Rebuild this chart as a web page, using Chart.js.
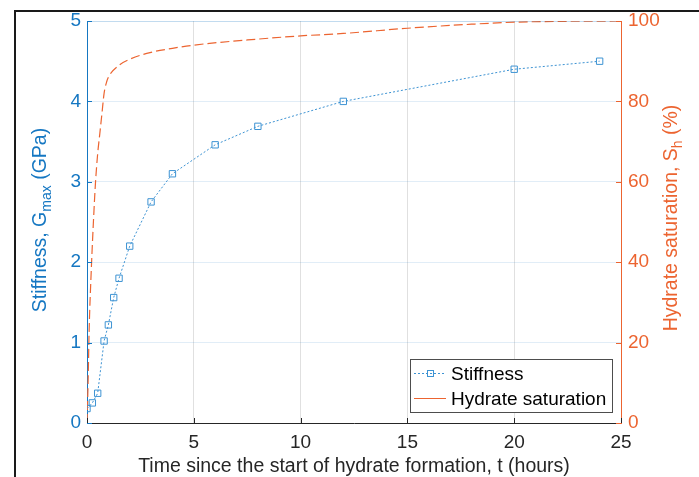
<!DOCTYPE html>
<html>
<head>
<meta charset="utf-8">
<script src="https://cdn.jsdelivr.net/npm/chart.js@4.4.1/dist/chart.umd.min.js"></script>
<style>
    html, body { margin: 0; padding: 0; background: #ffffff; }
    #wrap { width: 699px; height: 477px; }
</style>
</head>
<body>
<div id="wrap"><canvas id="chart" width="699" height="477"></canvas></div>
<script>
// ---------------------------------------------------------------------------
// Data
// ---------------------------------------------------------------------------

const stiffTime = [0, 0.25, 0.5, 0.8, 1.0, 1.25, 1.5, 2, 3, 4, 6, 8, 12, 20, 24];
const stiffness = [0.18, 0.25, 0.37, 1.02, 1.22, 1.56, 1.8, 2.2, 2.75, 3.1, 3.46, 3.69, 4.0, 4.4, 4.5];

const satTime = [0, 0.05, 0.1, 0.2, 0.3, 0.4, 0.5, 0.6, 0.7, 0.8, 0.9, 1.0, 1.5, 2, 3, 4, 5, 8, 10, 12, 15, 18, 20, 22, 25];
const saturation = [0, 10, 23, 38, 50, 60, 67, 72, 77, 82, 84.5, 86, 89, 90.5, 92.2, 93.2, 94, 95.5, 96.3, 96.9, 98.2, 99.2, 99.7, 99.9, 100];

const xTicks = [0, 5, 10, 15, 20, 25];
const leftTicks = [0, 1, 2, 3, 4, 5];
const rightTicks = [0, 20, 40, 60, 80, 100];

// ---------------------------------------------------------------------------
// Colours / fonts
// ---------------------------------------------------------------------------

const BLUE = '#1577c2';
const BLUE_LIGHT = '#3d93d3';
const ORANGE = '#ec6430';
const DARK = '#262626';
const FONT = '"Liberation Sans", Arial, sans-serif';

const toPoints = (xs, ys) => xs.map((x, i) => ({ x, y: ys[i] }));

// Frame, inward ticks, axis titles with subscripts, legend box
const decorPlugin = {
    id: 'decor',
    beforeDraw(chart) {
        const c = chart.ctx;
        c.save();
        c.fillStyle = '#ffffff';
        c.fillRect(0, 0, chart.width, chart.height);
        c.restore();
    },
    afterDraw(chart) {
        const c = chart.ctx;
        const a = chart.chartArea;
        const sx = chart.scales.x, sy = chart.scales.y, sy1 = chart.scales.y1;

        c.save();
        // outer frame (top + left)
        c.strokeStyle = '#1a1a1a';
        c.lineWidth = 2;
        c.beginPath();
        c.moveTo(15, chart.height);
        c.lineTo(15, 11);
        c.lineTo(chart.width, 11);
        c.stroke();

        // faint top edge
        c.strokeStyle = 'rgba(21,119,194,0.15)';
        c.lineWidth = 1;
        c.beginPath();
        c.moveTo(a.left, a.top + 0.5);
        c.lineTo(a.right, a.top + 0.5);
        c.stroke();

        // inward ticks
        c.lineWidth = 1;
        c.strokeStyle = DARK;
        xTicks.forEach(v => {
            const px = Math.round(sx.getPixelForValue(v)) + 0.5;
            c.beginPath(); c.moveTo(px, a.bottom); c.lineTo(px, a.bottom - 5); c.stroke();
        });
        c.strokeStyle = BLUE;
        leftTicks.forEach(v => {
            const py = Math.round(sy.getPixelForValue(v)) + 0.5;
            c.beginPath(); c.moveTo(a.left, py); c.lineTo(a.left + 5, py); c.stroke();
        });
        c.strokeStyle = ORANGE;
        rightTicks.forEach(v => {
            const py = Math.round(sy1.getPixelForValue(v)) + 0.5;
            c.beginPath(); c.moveTo(a.right, py); c.lineTo(a.right - 5, py); c.stroke();
        });

        // x title
        c.fillStyle = DARK;
        c.font = '19.5px ' + FONT;
        c.textAlign = 'center';
        c.textBaseline = 'alphabetic';
        c.fillText('Time since the start of hydrate formation, t (hours)', (a.left + a.right) / 2, 472);

        // rotated titles with subscript
        const drawRotTitle = (cx, cy, parts, color) => {
            c.save();
            c.translate(cx, cy);
            c.rotate(-Math.PI / 2);
            c.fillStyle = color;
            c.textAlign = 'left';
            let total = 0;
            parts.forEach(p => {
                c.font = (p.sub ? '14px ' : '19.5px ') + FONT;
                total += c.measureText(p.t).width;
            });
            let x = -total / 2;
            parts.forEach(p => {
                c.font = (p.sub ? '14px ' : '19.5px ') + FONT;
                c.fillText(p.t, x, p.sub ? 11 : 6);
                x += c.measureText(p.t).width;
            });
            c.restore();
        };
        drawRotTitle(40, (a.top + a.bottom) / 2 - 2,
            [{ t: 'Stiffness, G' }, { t: 'max', sub: true }, { t: ' (GPa)' }], BLUE);
        drawRotTitle(671, (a.top + a.bottom) / 2 - 4,
            [{ t: 'Hydrate saturation, S' }, { t: 'h', sub: true }, { t: ' (%)' }], ORANGE);

        // legend box
        const lx = 410.5, ly = 359.5, lw = 202, lh = 53;
        c.fillStyle = '#ffffff';
        c.fillRect(lx, ly, lw, lh);
        c.strokeStyle = '#4d4d4d';
        c.lineWidth = 1;
        c.strokeRect(lx, ly, lw, lh);

        c.strokeStyle = BLUE_LIGHT;
        c.setLineDash([2, 2]);
        c.beginPath(); c.moveTo(414, 373.5); c.lineTo(446, 373.5); c.stroke();
        c.setLineDash([]);
        c.strokeRect(427.5, 370.5, 6, 6);

        c.strokeStyle = ORANGE;
        c.beginPath(); c.moveTo(414, 398.5); c.lineTo(446, 398.5); c.stroke();

        c.fillStyle = '#000000';
        c.font = '19px ' + FONT;
        c.textBaseline = 'middle';
        c.textAlign = 'left';
        c.fillText('Stiffness', 451, 375);
        c.fillText('Hydrate saturation', 451, 400);
        c.restore();
    }
};

new Chart(document.getElementById('chart'), {
    type: 'line',
    data: {
        datasets: [
            {
                label: 'Stiffness',
                data: toPoints(stiffTime, stiffness),
                yAxisID: 'y',
                borderColor: BLUE_LIGHT,
                borderWidth: 1,
                borderDash: [2, 2],
                pointStyle: 'rect',
                pointRadius: 4.5,
                pointBorderWidth: 1,
                pointBorderColor: BLUE_LIGHT,
                pointBackgroundColor: 'rgba(255,255,255,0)',
                tension: 0
            },
            {
                label: 'Hydrate saturation',
                data: toPoints(satTime, saturation),
                yAxisID: 'y1',
                borderColor: ORANGE,
                borderWidth: 1.2,
                borderDash: [9, 4],
                pointRadius: 0,
                tension: 0.3,
                cubicInterpolationMode: 'monotone'
            }
        ]
    },
    options: {
        responsive: false,
        animation: false,
        devicePixelRatio: 1,
        layout: { padding: { top: 21, left: 0, right: 0, bottom: 0 } },
        plugins: {
            legend: { display: false },
            tooltip: { enabled: false }
        },
        scales: {
            x: {
                type: 'linear',
                min: 0,
                max: 25,
                afterBuildTicks: s => { s.ticks = xTicks.map(v => ({ value: v })); },
                afterFit: s => { s.height = 54; },
                ticks: { color: DARK, font: { family: FONT, size: 19 }, padding: 8 },
                grid: { color: 'rgba(0,0,0,0.12)', drawTicks: false },
                border: { color: DARK, width: 1 }
            },
            y: {
                position: 'left',
                min: 0,
                max: 5,
                afterBuildTicks: s => { s.ticks = leftTicks.map(v => ({ value: v })); },
                afterFit: s => { s.width = 87; },
                ticks: { color: BLUE, font: { family: FONT, size: 19 }, padding: 6 },
                grid: { color: 'rgba(21,119,194,0.13)', drawTicks: false },
                border: { color: BLUE, width: 1 }
            },
            y1: {
                position: 'right',
                min: 0,
                max: 100,
                afterBuildTicks: s => { s.ticks = rightTicks.map(v => ({ value: v })); },
                afterFit: s => { s.width = 78; },
                ticks: { color: ORANGE, font: { family: FONT, size: 19 }, padding: 7 },
                grid: { display: false, drawTicks: false },
                border: { color: ORANGE, width: 1 }
            }
        }
    },
    plugins: [decorPlugin]
});
</script>
</body>
</html>
